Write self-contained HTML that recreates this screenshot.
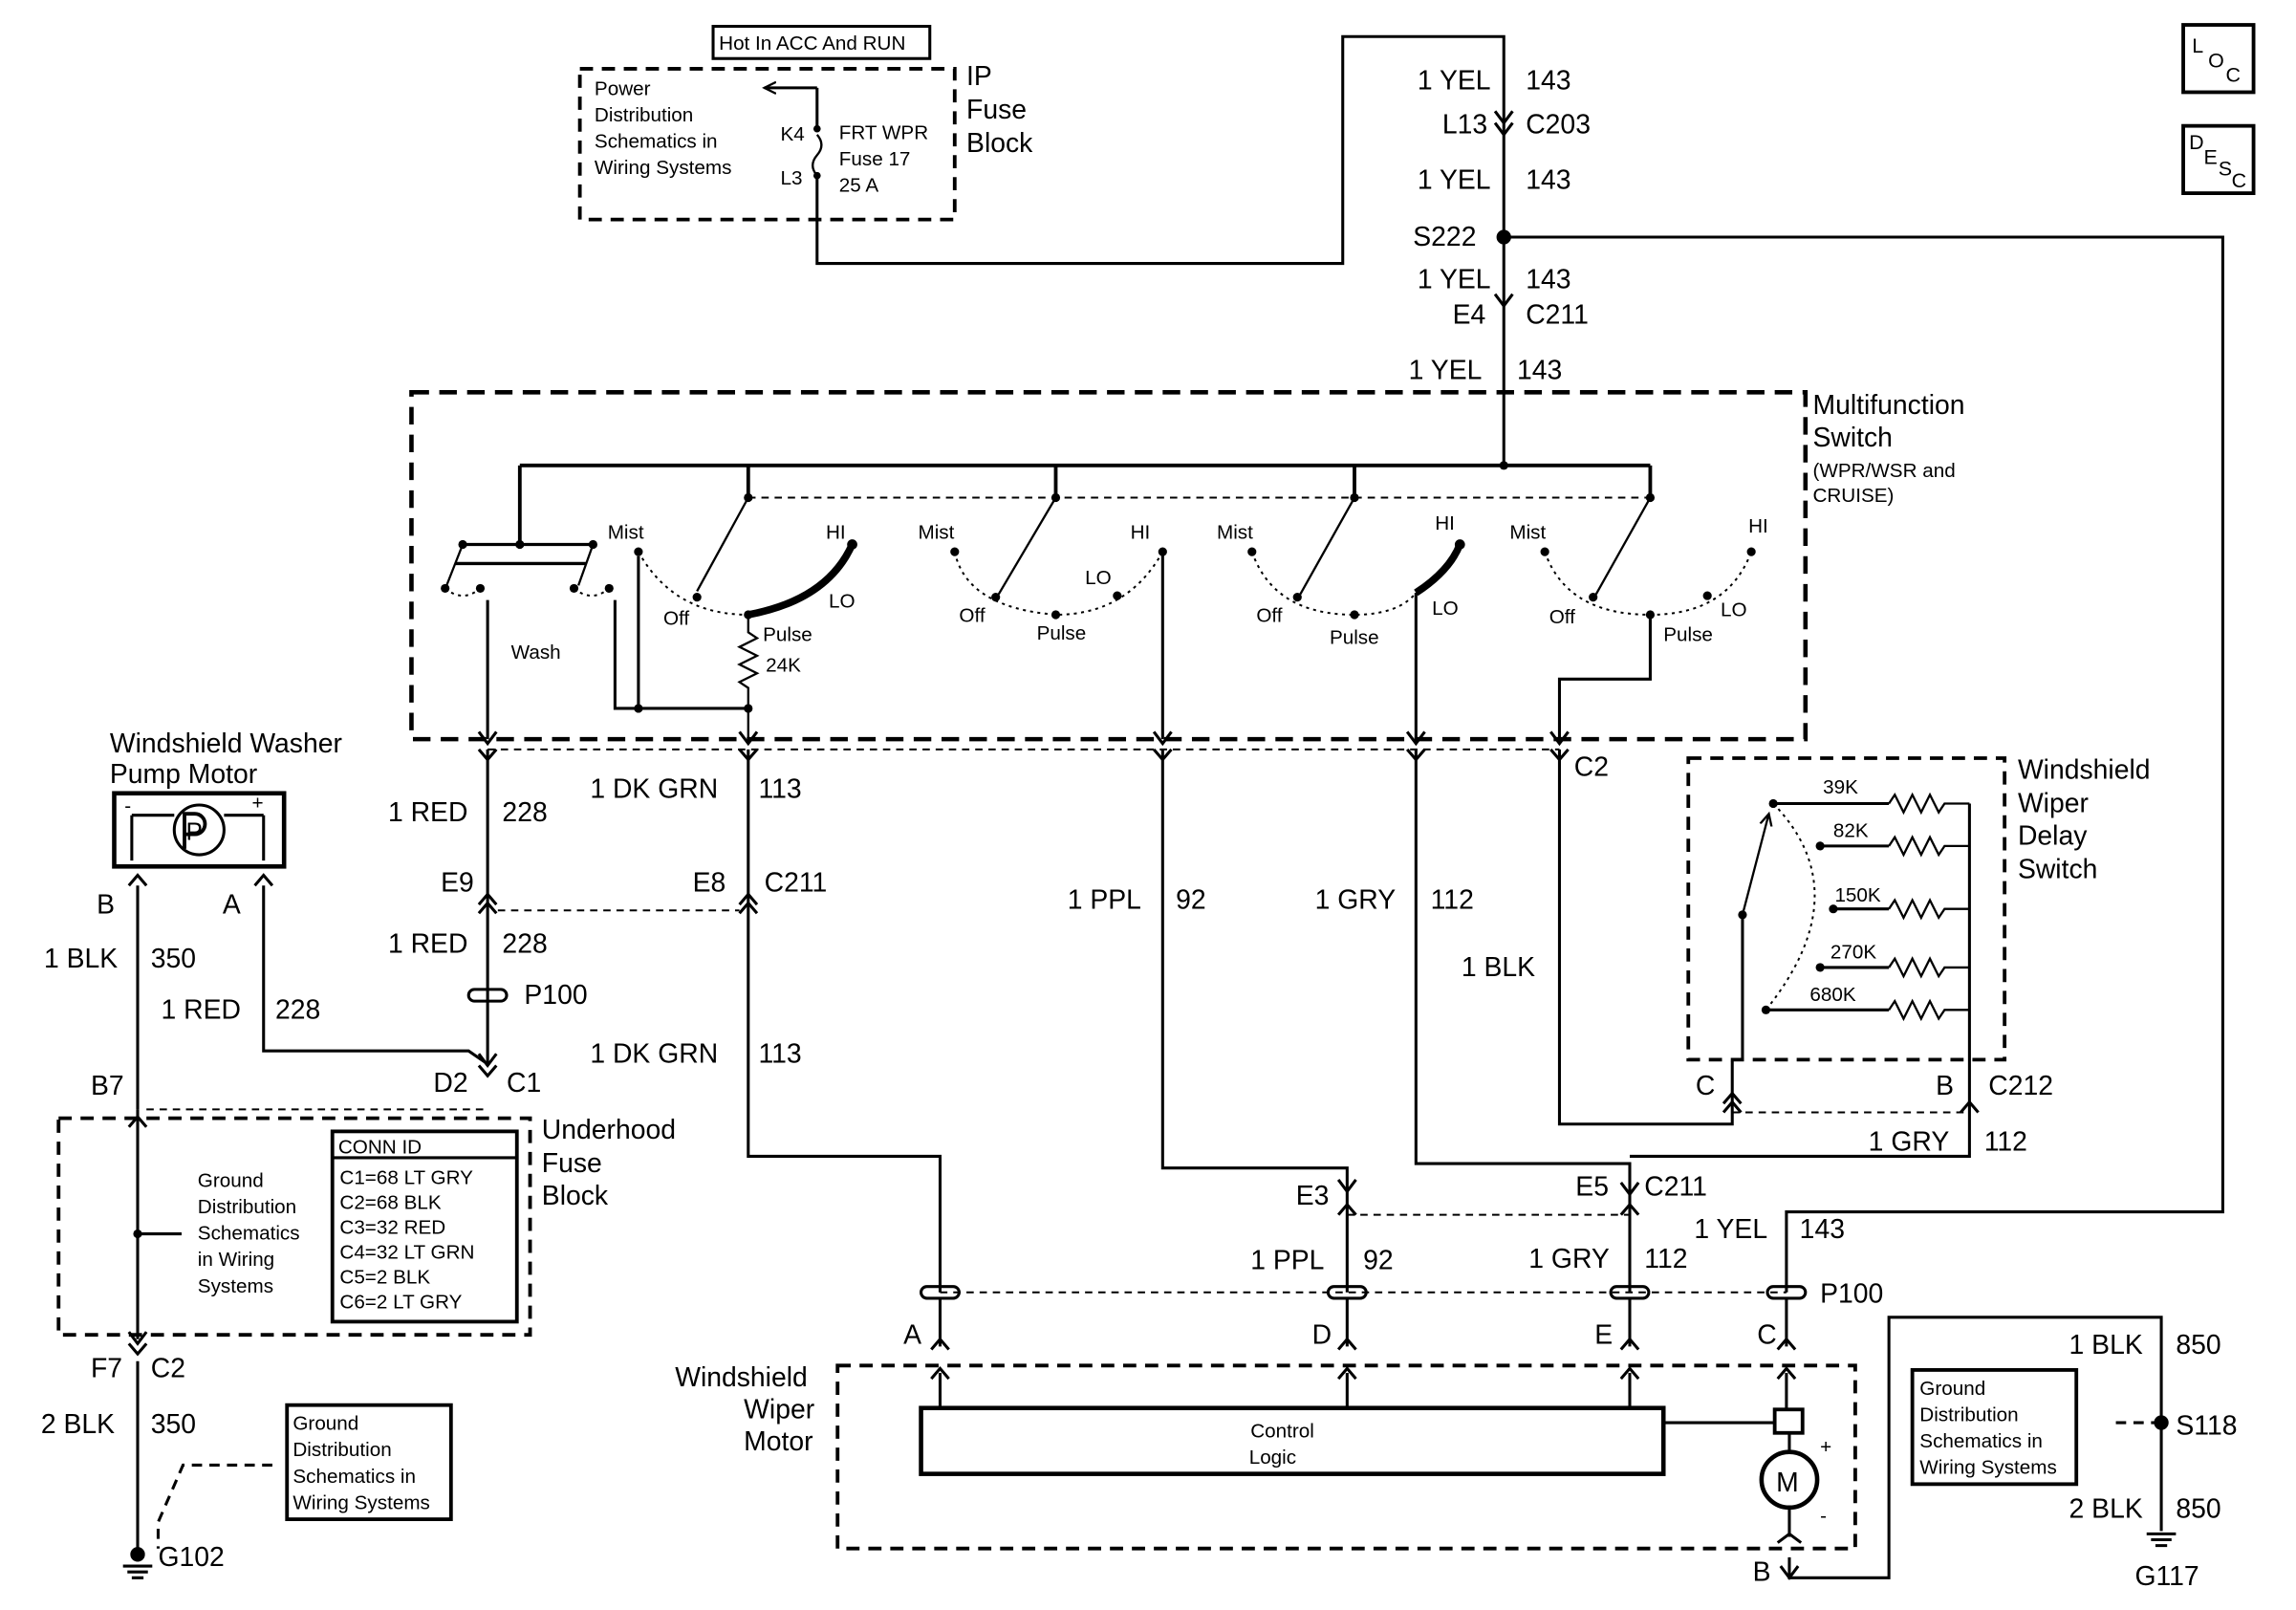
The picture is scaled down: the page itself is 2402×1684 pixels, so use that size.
<!DOCTYPE html>
<html><head><style>html,body{margin:0;padding:0;background:#fff}svg{display:block}
text{font-family:"Liberation Sans",sans-serif;fill:#000}
.l{font-size:18.5px}.s{font-size:13.5px}.m{font-size:15px}</style></head><body>
<svg width="2402" height="1684" viewBox="0 0 1568 1100" preserveAspectRatio="none" xmlns="http://www.w3.org/2000/svg">
<defs>
<marker id="ar" markerWidth="10" markerHeight="10" refX="8" refY="5" orient="auto" markerUnits="userSpaceOnUse"><path d="M0,1 L8,5 L0,9" fill="none" stroke="#000" stroke-width="1.5"/></marker>
</defs>
<g fill="none" stroke="#000" stroke-width="2">
<rect x="487" y="18" width="148" height="22" stroke-width="2"/>
<rect x="396" y="47" width="256" height="103" stroke-dasharray="9,6" stroke-width="2.5"/>
<path d="M558,60 H522" marker-end="url(#ar)"/>
<path d="M558,60 V88"/><path d="M558,120 V180 H917 V25 H1027 V318" />
<path d="M558,92 q6,7 0,14 q-6,7 0,14" stroke-width="1.5"/>
<path d="M1027,162 H1518 V828 H1220 V883"/>
<rect x="281" y="268" width="952" height="237" stroke-dasharray="12,7" stroke-width="3"/>
<path d="M355,318 H1127 M355,318 V372 M511,318 V340 M721,318 V340 M925,318 V340 M1127,318 V340" stroke-width="2.5"/>
<path d="M511,340 H1127" stroke-dasharray="5,4" stroke-width="1.3"/>
<path d="M316,372 H405 M311,385 H400" stroke-width="2.2"/>
<path d="M311,385 H400" stroke-dasharray="5,4" stroke-width="1.3"/>
<path d="M316,372 L305,400 M405,372 L395,400" stroke-width="1.5"/>
<path d="M304,402 q12,10 24,0 M392,402 q12,10 24,0" stroke-dasharray="2,3" stroke-width="1.3"/>
<path d="M333,410 V505 M420,410 V484 H511 M436,380 V484" stroke-width="2"/>
<path d="M436,377 Q460,420 511,420 M652,377 Q660,415 721,420 Q770,420 794,377 M855,377 Q870,420 925,420 Q955,420 967,405 M1055,377 Q1070,420 1127,420 Q1180,420 1196,377" stroke-dasharray="2,3" stroke-width="1.3"/>
<path d="M511,340 L476,404 M721,340 L682,406 M925,340 L888,406 M1127,340 L1090,406" stroke-width="1.5"/>
<path d="M511,420 Q565,410 582,372" stroke-width="5"/>
<path d="M967,405 Q990,390 997,372" stroke-width="5"/>
<path d="M511,420 V432 l6,4 -12,6 12,6 -12,6 12,6 -12,6 6,4 V505" stroke-width="1.5"/>
<path d="M794,377 V505 M967,405 V505 M1127,420 V464 H1065 V505" stroke-width="2"/>
<path d="M333,512 H1065" stroke-dasharray="5,4" stroke-width="1.3"/>
<path d="M333,512 V727 M511,512 V790 H642 V883 M794,512 V798 H920 V883 M967,512 V795 H1113 V883 M1065,512 V768 H1183 V725" />
<path d="M340,622 H505" stroke-dasharray="5,4" stroke-width="1.3"/>
<rect x="78" y="542" width="116" height="50" stroke-width="3"/>
<circle cx="136" cy="567" r="17"/>
<path d="M90,557 V588 M180,557 V588 M90,557 H119 M153,557 H180 M94,605 V758 M180,605 V718 H320 L333,727"/>
<path d="M94,758 V915 M94,930 V1060"/>
<path d="M100,758 H333" stroke-dasharray="5,4" stroke-width="1.3"/>
<rect x="40" y="764" width="322" height="148" stroke-dasharray="9,6" stroke-width="2.5"/>
<path d="M124,843 H94"/>
<rect x="227" y="773" width="126" height="130" stroke-width="2.5"/>
<path d="M227,791 H353"/>
<rect x="196" y="960" width="112" height="78" stroke-width="2.5"/>
<path d="M186,1001 H125 L108,1040 V1058" stroke-dasharray="7,5"/>
<path d="M84,1070 H104 M87,1074 H101 M90,1078 H98"/>
<rect x="320" y="676" width="26" height="8" rx="4"/>
<rect x="1153" y="518" width="216" height="206" stroke-dasharray="9,6" stroke-width="2.5"/>
<path d="M1211,549 H1290 M1243,578 H1290 M1252,621 H1290 M1243,661 H1290 M1206,690 H1290"/>
<path d="M1290,549 l4,-6 6,12 6,-12 6,12 6,-12 6,12 4,-6 H1345 M1290,578 l4,-6 6,12 6,-12 6,12 6,-12 6,12 4,-6 H1345 M1290,621 l4,-6 6,12 6,-12 6,12 6,-12 6,12 4,-6 H1345 M1290,661 l4,-6 6,12 6,-12 6,12 6,-12 6,12 4,-6 H1345 M1290,690 l4,-6 6,12 6,-12 6,12 6,-12 6,12 4,-6 H1345" stroke-width="1.5"/>
<path d="M1345,549 V760 M1345,549 V690"/>
<path d="M1211,549 Q1270,610 1206,690" stroke-dasharray="2,3" stroke-width="1.3"/>
<path d="M1190,625 L1208,556" stroke-width="1.5" marker-end="url(#ar)"/>
<path d="M1190,625 V725"/>
<path d="M1183,760 H1345" stroke-dasharray="5,4" stroke-width="1.3"/>
<path d="M1345,760 V790 H1113" />
<path d="M920,830 H1113" stroke-dasharray="5,4" stroke-width="1.3"/>
<path d="M642,883 H1220" stroke-dasharray="5,4" stroke-width="1.3"/>
<rect x="629" y="879" width="26" height="8" rx="4"/><rect x="907" y="879" width="26" height="8" rx="4"/><rect x="1100" y="879" width="26" height="8" rx="4"/><rect x="1207" y="879" width="26" height="8" rx="4"/>
<path d="M642,887 V920 M920,887 V920 M1113,887 V920 M1220,887 V920"/>
<rect x="572" y="933" width="695" height="125" stroke-dasharray="9,6" stroke-width="2.5"/>
<path d="M642,938 V962 M920,938 V962 M1113,938 V962 M1220,938 V962"/>
<rect x="629" y="962" width="507" height="45" stroke-width="3"/>
<path d="M1136,972 H1212"/>
<rect x="1212" y="963" width="19" height="16" stroke-width="2.5"/>
<path d="M1222,979 V992 M1222,1030 V1050 M1222,1064 V1078 H1290 V900 H1476 V1046"/>
<circle cx="1222" cy="1011" r="19" stroke-width="3"/>
<rect x="1306" y="936" width="112" height="78" stroke-width="2.5"/>
<path d="M1476,972 H1440" stroke-dasharray="7,5"/>
<path d="M1466,1048 H1486 M1469,1052 H1483 M1472,1056 H1480"/>
<rect x="1491" y="17" width="48" height="46" stroke-width="2.5"/>
<rect x="1491" y="86" width="48" height="46" stroke-width="2.5"/>
<path d="M1021,76 l6,8 6,-8 M1021,84 l6,8 6,-8 M1021,201 l6,8 6,-8 M327,500 l6,8 6,-8 M505,500 l6,8 6,-8 M788,500 l6,8 6,-8 M961,500 l6,8 6,-8 M1059,500 l6,8 6,-8 M327,512 l6,7 6,-7 M505,512 l6,7 6,-7 M788,512 l6,7 6,-7 M961,512 l6,7 6,-7 M1059,512 l6,7 6,-7 M327,618 l6,-7 6,7 M327,624 l6,-7 6,7 M505,618 l6,-7 6,7 M505,624 l6,-7 6,7 M88,605 l6,-7 6,7 M174,605 l6,-7 6,7 M327,720 l6,8 6,-8 M327,728 l6,7 6,-7 M88,770 l6,-7 6,7 M88,910 l6,8 6,-8 M88,918 l6,7 6,-7 M914,806 l6,8 6,-8 M914,830 l6,-7 6,7 M1107,808 l6,8 6,-8 M1107,830 l6,-7 6,7 M1177,760 l6,-7 6,7 M1177,754 l6,-7 6,7 M1339,760 l6,-7 6,7 M636,922 l6,-7 6,7 M914,922 l6,-7 6,7 M1107,922 l6,-7 6,7 M1214,922 l6,-7 6,7 M636,942 l6,-7 6,7 M914,942 l6,-7 6,7 M1107,942 l6,-7 6,7 M1214,942 l6,-7 6,7 M1216,1070 l6,8 6,-8 M1214,1054 l8,-6 8,6"/>
</g>
<g fill="#000">
<circle cx="1027" cy="162" r="5"/><circle cx="1476" cy="972" r="5"/>
<circle cx="94" cy="1062" r="5"/><circle cx="94" cy="843" r="3"/>
<circle cx="1027" cy="318" r="3"/><circle cx="511" cy="340" r="3"/><circle cx="721" cy="340" r="3"/><circle cx="925" cy="340" r="3"/><circle cx="1127" cy="340" r="3"/>
<circle cx="316" cy="372" r="3"/><circle cx="405" cy="372" r="3"/><circle cx="355" cy="372" r="3"/>
<circle cx="304" cy="402" r="3"/><circle cx="328" cy="402" r="3"/><circle cx="392" cy="402" r="3"/><circle cx="416" cy="402" r="3"/>
<circle cx="436" cy="377" r="3"/><circle cx="476" cy="408" r="3"/><circle cx="511" cy="420" r="3"/><circle cx="582" cy="372" r="3.5"/>
<circle cx="652" cy="377" r="3"/><circle cx="680" cy="408" r="3"/><circle cx="721" cy="420" r="3"/><circle cx="763" cy="407" r="3"/><circle cx="794" cy="377" r="3"/>
<circle cx="855" cy="377" r="3"/><circle cx="886" cy="408" r="3"/><circle cx="925" cy="420" r="3"/><circle cx="997" cy="372" r="3.5"/>
<circle cx="1055" cy="377" r="3"/><circle cx="1088" cy="408" r="3"/><circle cx="1127" cy="420" r="3"/><circle cx="1166" cy="407" r="3"/><circle cx="1196" cy="377" r="3"/>
<circle cx="436" cy="484" r="3"/><circle cx="511" cy="484" r="3"/>
<circle cx="1211" cy="549" r="3"/><circle cx="1243" cy="578" r="3"/><circle cx="1252" cy="621" r="3"/><circle cx="1243" cy="661" r="3"/><circle cx="1206" cy="690" r="3"/><circle cx="1190" cy="625" r="3"/>
<circle cx="558" cy="88" r="2.5"/><circle cx="558" cy="120" r="2.5"/>
</g>
<path d="M126,556 h7 a7,7 0 0 1 0,14 h-7 z M126,556 v24" fill="none" stroke="#000" stroke-width="2.5"/>
<text x="491" y="34" class="s">Hot In ACC And RUN</text>
<text class="s"><tspan x="406" y="65">Power</tspan><tspan x="406" y="83">Distribution</tspan><tspan x="406" y="101">Schematics in</tspan><tspan x="406" y="119">Wiring Systems</tspan></text>
<text x="533" y="96" class="s">K4</text><text x="533" y="126" class="s">L3</text>
<text class="s"><tspan x="573" y="95">FRT WPR</tspan><tspan x="573" y="113">Fuse 17</tspan><tspan x="573" y="131">25 A</tspan></text>
<text class="l"><tspan x="660" y="58">IP</tspan><tspan x="660" y="81">Fuse</tspan><tspan x="660" y="104">Block</tspan></text>
<g class="l">
<text x="968" y="61" class="l">1 YEL</text><text x="1042" y="61" class="l">143</text>
<text x="985" y="91" class="l">L13</text><text x="1042" y="91" class="l">C203</text>
<text x="968" y="129" class="l">1 YEL</text><text x="1042" y="129" class="l">143</text>
<text x="965" y="168" class="l">S222</text>
<text x="968" y="197" class="l">1 YEL</text><text x="1042" y="197" class="l">143</text>
<text x="992" y="221" class="l">E4</text><text x="1042" y="221" class="l">C211</text>
<text x="962" y="259" class="l">1 YEL</text><text x="1036" y="259" class="l">143</text>
<text x="1238" y="283" class="l">Multifunction</text><text x="1238" y="305" class="l">Switch</text>
</g>
<text class="s"><tspan x="1238" y="326">(WPR/WSR and</tspan><tspan x="1238" y="343">CRUISE)</tspan></text>
<g class="s">
<text x="415" y="368" class="s">Mist</text><text x="564" y="368" class="s">HI</text><text x="566" y="415" class="s">LO</text><text x="453" y="427" class="s">Off</text><text x="521" y="438" class="s">Pulse</text><text x="523" y="459" class="s">24K</text><text x="349" y="450" class="s">Wash</text>
<text x="627" y="368" class="s">Mist</text><text x="772" y="368" class="s">HI</text><text x="741" y="399" class="s">LO</text><text x="655" y="425" class="s">Off</text><text x="708" y="437" class="s">Pulse</text>
<text x="831" y="368" class="s">Mist</text><text x="980" y="362" class="s">HI</text><text x="978" y="420" class="s">LO</text><text x="858" y="425" class="s">Off</text><text x="908" y="440" class="s">Pulse</text>
<text x="1031" y="368" class="s">Mist</text><text x="1194" y="364" class="s">HI</text><text x="1175" y="421" class="s">LO</text><text x="1058" y="426" class="s">Off</text><text x="1136" y="438" class="s">Pulse</text>
</g>
<text class="l"><tspan x="75" y="514">Windshield Washer</tspan><tspan x="75" y="535">Pump Motor</tspan></text>
<text x="127" y="574" style="font-size:17px">P</text>
<text x="85" y="555" class="s">-</text><text x="172" y="553" class="s">+</text>
<text class="l">
<tspan x="66" y="624">B</tspan><tspan x="152" y="624">A</tspan>
<tspan x="30" y="661">1 BLK</tspan><tspan x="103" y="661">350</tspan>
<tspan x="110" y="696">1 RED</tspan><tspan x="188" y="696">228</tspan>
<tspan x="265" y="561">1 RED</tspan><tspan x="343" y="561">228</tspan>
<tspan x="403" y="545">1 DK GRN</tspan><tspan x="518" y="545">113</tspan>
<tspan x="301" y="609">E9</tspan><tspan x="473" y="609">E8</tspan><tspan x="522" y="609">C211</tspan>
<tspan x="265" y="651">1 RED</tspan><tspan x="343" y="651">228</tspan>
<tspan x="358" y="686">P100</tspan>
<tspan x="403" y="726">1 DK GRN</tspan><tspan x="518" y="726">113</tspan>
<tspan x="296" y="746">D2</tspan><tspan x="346" y="746">C1</tspan>
<tspan x="62" y="748">B7</tspan>
<tspan x="370" y="778">Underhood</tspan><tspan x="370" y="801">Fuse</tspan><tspan x="370" y="823">Block</tspan>
<tspan x="62" y="941">F7</tspan><tspan x="103" y="941">C2</tspan>
<tspan x="28" y="979">2 BLK</tspan><tspan x="103" y="979">350</tspan>
<tspan x="108" y="1070">G102</tspan>
<tspan x="1075" y="530">C2</tspan>
<tspan x="729" y="621">1 PPL</tspan><tspan x="803" y="621">92</tspan>
<tspan x="898" y="621">1 GRY</tspan><tspan x="977" y="621">112</tspan>
<tspan x="998" y="667">1 BLK</tspan>
<tspan x="1378" y="532">Windshield</tspan><tspan x="1378" y="555">Wiper</tspan><tspan x="1378" y="577">Delay</tspan><tspan x="1378" y="600">Switch</tspan>
<tspan x="1158" y="748">C</tspan><tspan x="1322" y="748">B</tspan><tspan x="1358" y="748">C212</tspan>
<tspan x="1276" y="786">1 GRY</tspan><tspan x="1355" y="786">112</tspan>
<tspan x="885" y="823">E3</tspan><tspan x="1076" y="817">E5</tspan><tspan x="1123" y="817">C211</tspan>
<tspan x="1157" y="846">1 YEL</tspan><tspan x="1229" y="846">143</tspan>
<tspan x="854" y="867">1 PPL</tspan><tspan x="931" y="867">92</tspan>
<tspan x="1044" y="866">1 GRY</tspan><tspan x="1123" y="866">112</tspan>
<tspan x="1243" y="890">P100</tspan>
<tspan x="617" y="918">A</tspan><tspan x="896" y="918">D</tspan><tspan x="1089" y="918">E</tspan><tspan x="1200" y="918">C</tspan>
<tspan x="461" y="947">Windshield</tspan><tspan x="508" y="969">Wiper</tspan><tspan x="508" y="991">Motor</tspan>
<tspan x="1413" y="925">1 BLK</tspan><tspan x="1486" y="925">850</tspan>
<tspan x="1486" y="980">S118</tspan>
<tspan x="1413" y="1037">2 BLK</tspan><tspan x="1486" y="1037">850</tspan>
<tspan x="1458" y="1083">G117</tspan>
<tspan x="1197" y="1080">B</tspan>
<tspan x="1213" y="1019">M</tspan>
</text>
<text class="s">
<tspan x="1245" y="542">39K</tspan><tspan x="1252" y="572">82K</tspan><tspan x="1253" y="616">150K</tspan><tspan x="1250" y="655">270K</tspan><tspan x="1236" y="684">680K</tspan>
<tspan x="231" y="788">CONN ID</tspan>
<tspan x="232" y="809">C1=68 LT GRY</tspan><tspan x="232" y="826">C2=68 BLK</tspan><tspan x="232" y="843">C3=32 RED</tspan><tspan x="232" y="860">C4=32 LT GRN</tspan><tspan x="232" y="877">C5=2 BLK</tspan><tspan x="232" y="894">C6=2 LT GRY</tspan>
<tspan x="135" y="811">Ground</tspan><tspan x="135" y="829">Distribution</tspan><tspan x="135" y="847">Schematics</tspan><tspan x="135" y="865">in Wiring</tspan><tspan x="135" y="883">Systems</tspan>
<tspan x="200" y="977">Ground</tspan><tspan x="200" y="995">Distribution</tspan><tspan x="200" y="1013">Schematics in</tspan><tspan x="200" y="1031">Wiring Systems</tspan>
<tspan x="1311" y="953">Ground</tspan><tspan x="1311" y="971">Distribution</tspan><tspan x="1311" y="989">Schematics in</tspan><tspan x="1311" y="1007">Wiring Systems</tspan>
<tspan x="854" y="982">Control</tspan><tspan x="853" y="1000">Logic</tspan>
<tspan x="1243" y="993">+</tspan><tspan x="1243" y="1040">-</tspan>
</text>
<text style="font-size:14px"><tspan x="1497" y="36">L</tspan><tspan x="1508" y="46">O</tspan><tspan x="1520" y="56">C</tspan>
<tspan x="1495" y="102">D</tspan><tspan x="1505" y="112">E</tspan><tspan x="1515" y="120">S</tspan><tspan x="1524" y="128">C</tspan></text>
</svg>
</body></html>
